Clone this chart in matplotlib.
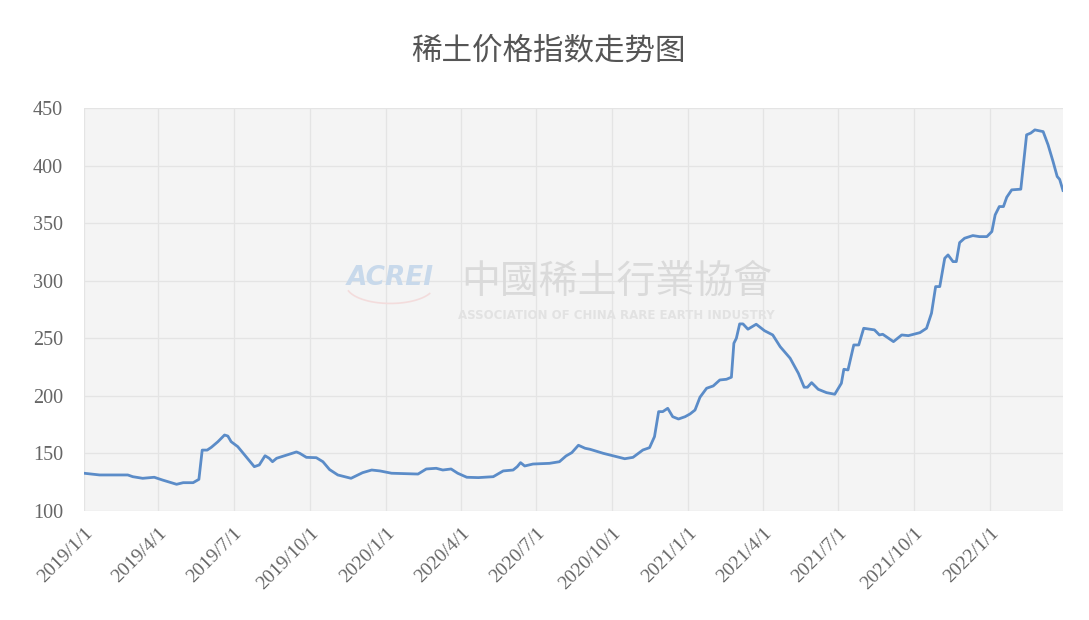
import numpy as np
import pandas as pd
import matplotlib
matplotlib.use("Agg")
from matplotlib import pyplot as plt

# index values
dates = [
    "2019-01-01", "2019-01-20", "2019-02-23", "2019-03-01", "2019-03-13", "2019-03-27",
    "2019-04-06", "2019-04-23", "2019-05-01", "2019-05-13", "2019-05-20", "2019-05-24",
    "2019-05-30", "2019-06-04", "2019-06-12", "2019-06-20", "2019-06-24", "2019-06-28",
    "2019-07-06", "2019-07-16", "2019-07-26", "2019-08-01", "2019-08-08", "2019-08-13",
    "2019-08-17", "2019-08-22", "2019-09-03", "2019-09-15", "2019-09-19", "2019-09-27",
    "2019-10-09", "2019-10-17", "2019-10-25", "2019-11-04", "2019-11-20", "2019-12-04",
    "2019-12-15", "2019-12-25", "2020-01-08", "2020-02-09", "2020-02-19", "2020-03-02",
    "2020-03-10", "2020-03-20", "2020-03-28", "2020-04-08", "2020-04-22", "2020-05-10",
    "2020-05-22", "2020-06-03", "2020-06-08", "2020-06-12", "2020-06-17", "2020-06-27",
    "2020-07-17", "2020-07-29", "2020-08-06", "2020-08-13", "2020-08-21", "2020-08-29",
    "2020-09-04", "2020-09-20", "2020-10-06", "2020-10-16", "2020-10-26", "2020-11-07",
    "2020-11-15", "2020-11-21", "2020-11-26", "2020-12-01", "2020-12-07", "2020-12-13",
    "2020-12-20", "2020-12-28", "2021-01-03", "2021-01-09", "2021-01-15", "2021-01-23",
    "2021-01-31", "2021-02-08", "2021-02-16", "2021-02-22", "2021-02-25", "2021-02-28",
    "2021-03-04", "2021-03-08", "2021-03-14", "2021-03-24", "2021-04-03", "2021-04-13",
    "2021-04-22", "2021-05-04", "2021-05-14", "2021-05-21", "2021-05-25", "2021-05-30",
    "2021-06-07", "2021-06-17", "2021-06-27", "2021-07-05", "2021-07-08", "2021-07-13",
    "2021-07-20", "2021-07-26", "2021-08-01", "2021-08-08", "2021-08-14", "2021-08-20",
    "2021-08-24", "2021-09-06", "2021-09-16", "2021-09-24", "2021-10-08", "2021-10-16",
    "2021-10-22", "2021-10-27", "2021-11-01", "2021-11-07", "2021-11-11", "2021-11-17",
    "2021-11-21", "2021-11-25", "2021-12-01", "2021-12-11", "2021-12-19", "2021-12-28",
    "2022-01-03", "2022-01-07", "2022-01-12", "2022-01-17", "2022-01-21", "2022-01-27",
    "2022-02-07", "2022-02-14", "2022-02-19", "2022-02-24", "2022-03-06", "2022-03-12",
    "2022-03-18", "2022-03-23", "2022-03-26", "2022-03-30",
]
values = [
    132.8, 131.3, 131.3, 129.8, 128.4, 129.3,
    126.9, 123.2, 124.6, 124.6, 127.5, 152.9,
    152.9, 155.3, 160.2, 166.0, 165.1, 160.2,
    155.9, 147.2, 138.5, 140.0, 148.0, 145.8,
    142.8, 145.8, 148.6, 151.3, 150.1, 146.6,
    146.3, 142.8, 136.0, 131.3, 128.4, 133.3,
    135.6, 134.8, 132.8, 132.1, 136.5, 137.1,
    135.6, 136.5, 132.8, 129.3, 129.0, 129.8,
    134.8, 135.6, 138.5, 142.0, 139.1, 140.8,
    141.4, 142.8, 147.8, 150.7, 157.1, 154.5,
    153.6, 150.1, 147.2, 145.4, 146.6, 153.0,
    155.0, 164.6, 186.3, 186.3, 189.2, 181.9,
    179.9, 181.9, 184.3, 187.7, 198.8, 206.6,
    208.6, 213.8, 214.4, 216.2, 245.7, 250.0,
    262.5, 262.5, 257.9, 262.2, 256.6, 252.9,
    242.7, 232.7, 219.6, 207.5, 207.5, 211.5,
    205.7, 202.8, 201.4, 210.9, 223.1, 222.5,
    244.2, 244.2, 258.7, 257.9, 257.3, 252.9,
    253.5, 247.1, 252.9, 252.3, 254.9, 258.7,
    271.8, 294.9, 294.9, 319.5, 322.4, 316.6,
    316.6, 333.1, 336.9, 339.2, 338.3, 338.3,
    342.7, 357.2, 364.4, 364.4, 372.5, 378.9,
    379.5, 426.7, 428.2, 431.0, 429.5, 418.0,
    403.5, 390.5, 388.0, 378.4,
]
tick_dates = ["2019-01-01", "2019-04-01", "2019-07-01", "2019-10-01",
              "2020-01-01", "2020-04-01", "2020-07-01", "2020-10-01",
              "2021-01-01", "2021-04-01", "2021-07-01", "2021-10-01",
              "2022-01-01"]
tick_labels = ["2019/1/1", "2019/4/1", "2019/7/1", "2019/10/1",
               "2020/1/1", "2020/4/1", "2020/7/1", "2020/10/1",
               "2021/1/1", "2021/4/1", "2021/7/1", "2021/10/1",
               "2022/1/1"]
y_ticks = [100, 150, 200, 250, 300, 350, 400, 450]

x = pd.to_datetime(dates)

fig = plt.figure(figsize=(10.89, 6.2), dpi=100)
ax = fig.add_axes([0.0771, 0.1758, 0.899, 0.650])
ax.set_facecolor("#f4f4f4")

# watermark
ax.text(0.313, 0.578, "ACREI", transform=ax.transAxes, fontsize=19, fontweight="bold",
        style="italic", color="#c8d9eb", ha="center", va="center", family="DejaVu Sans")
t = np.linspace(0.15, 0.9, 40)
ax.plot(0.313 + 0.045 * np.cos(np.pi * t), 0.56 - 0.045 * np.sin(np.pi * t),
        transform=ax.transAxes, color="#f3dcdc", lw=1.2)
ax.text(0.544, 0.568, "中國稀土行業協會", transform=ax.transAxes, fontsize=28,
        color="#dadada", ha="center", va="center", family=["Noto Sans CJK TC", "DejaVu Sans"])
ax.text(0.544, 0.484, "ASSOCIATION OF CHINA RARE EARTH INDUSTRY", transform=ax.transAxes,
        fontsize=8.5, fontweight="bold", color="#e2e2e2", ha="center", va="center")

ax.plot(x, values, color="#5b8cc8", lw=2.0, solid_joinstyle="round")

ax.set_xlim(pd.Timestamp("2019-01-01"), pd.Timestamp("2022-03-30"))
ax.set_ylim(100, 450)
ax.set_xticks(pd.to_datetime(tick_dates))
ax.set_xticklabels(tick_labels, rotation=45, ha="right", rotation_mode="anchor",
                   family="Liberation Serif", fontsize=14, color="#666666")
ax.set_yticks(y_ticks)
ax.set_yticklabels([str(v) for v in y_ticks], family="Liberation Serif",
                   fontsize=14.5, color="#666666")
ax.tick_params(length=0, axis="y", pad=15)
ax.tick_params(length=0, axis="x", pad=10)
ax.grid(True, color="#e4e4e4", lw=0.9)
ax.set_axisbelow(True)
for s in ax.spines.values():
    s.set_visible(False)

fig.text(0.504, 0.918, "稀土价格指数走势图", ha="center", va="center", fontsize=22,
         color="#555555", family=["Noto Sans CJK SC", "DejaVu Sans"])

fig.savefig("out.png", dpi=100)
